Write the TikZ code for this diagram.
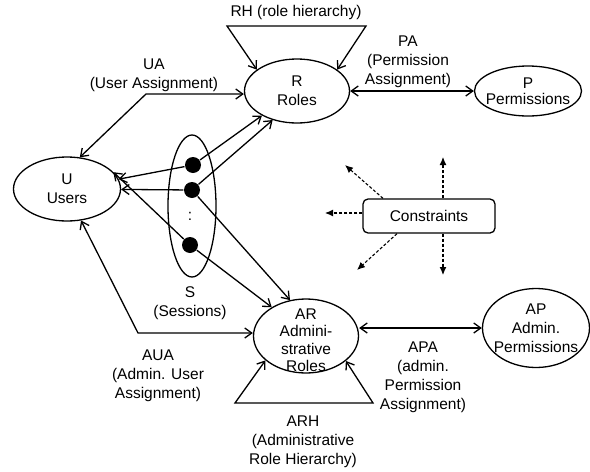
\documentclass[tikz,border=0pt]{standalone}
\usepackage{fontspec}
\setmainfont{Liberation Sans}
\usetikzlibrary{arrows.meta,shapes.geometric,positioning}

\begin{document}
\begin{tikzpicture}[x=1pt,y=-1pt,line width=1.3pt,
  font=\fontsize{15.5}{19}\selectfont,
  >={Straight Barb[length=7pt,width=10pt]},
  ent/.style={ellipse,draw,inner sep=0pt},
  dot/.style={circle,fill,inner sep=0pt,minimum size=16pt},
  lbl/.style={align=center,inner sep=0pt},
  cons/.style={dash pattern=on 3pt off 2pt,line width=1.1pt,-{Latex[length=8pt,width=7pt]}}]
\useasboundingbox (0,0) rectangle (590,472);
\node[ent,minimum width=107pt,minimum height=64pt,label={[lbl]center:U\\Users}] (U) at (67,189) {};
\node[ent,minimum width=105pt,minimum height=64pt,label={[lbl]center:R\\Roles}] (R) at (297,91) {};
\node[ent,minimum width=107pt,minimum height=50pt,label={[lbl,font=\fontsize{15.5}{16}\selectfont]center:P\\Permissions}] (P) at (528,91) {};
\node[ent,minimum width=105pt,minimum height=74pt,label={[lbl,yshift=-4pt,font=\fontsize{15.5}{17.5}\selectfont]center:AR\\Admini-\\strative\\Roles}] (AR) at (306,336) {};
\node[ent,minimum width=107pt,minimum height=79pt,label={[lbl]center:AP\\Admin.\\Permissions}] (AP) at (536,328) {};
\node[ent,minimum width=48pt,minimum height=142pt] (S) at (192,206) {};
\node[dot] (D1) at (193,165) {};
\node[dot] (D2) at (192,190) {};
\node[dot] (D3) at (190,245) {};
\node (dd) at (190,216) {:};
\node[draw,rounded corners=5pt,minimum width=132pt,minimum height=34pt] (C) at (429,216) {Constraints};

\node[lbl] (rhlbl) at (296,12) {RH (role hierarchy)};
\node[lbl] (ualbl) at (154,75) {UA\\(User Assignment)};
\node[lbl] (palbl) at (408,62) {PA\\(Permission\\Assignment)};
\node[lbl] (slbl) at (190,303) {S\\(Sessions)};
\node[lbl] (aualbl) at (158,376) {AUA\\(Admin. User\\Assignment)};
\node[lbl] (apalbl) at (423,377) {APA\\(admin.\\Permission\\Assignment)};
\node[lbl] (arhlbl) at (303,442) {ARH\\(Administrative\\Role Hierarchy)};

\coordinate (uac) at (146,94);
\coordinate (auc) at (138,333);
\coordinate (rhl) at (227,26);
\coordinate (rhr) at (366,26);
\coordinate (arl) at (235,403);
\coordinate (arr) at (373,403);
\draw[<->] (U.68) -- (uac) -- (uac -| R.west);
\draw[<->] (R.152) -- (rhl) -- (rhr) -- (R.28);
\draw[<->] (R.east) -- (P.west);
\draw[->] (D1) -- (U);
\draw[->] (D2) -- (U);
\draw[->] (D3) -- (U.20);
\draw[->] (D1) -- (R.215);
\draw[->] (D2) -- (R.230);
\draw[->] (D2) -- (AR.114);
\draw[->] (D3) -- (AR.140);
\draw[<->] (U.294) -- (auc) -- (auc -| AR.west);
\draw[<->] (AR.211) -- (arl) -- (arr) -- (AR.328);
\draw[<->] (AP.west -| AR.east) -- (AP.west);

\coordinate (cu) at (443,157);
\coordinate (cul) at (345,165);
\coordinate (cl) at (325,213);
\coordinate (cdl) at (357,270);
\coordinate (cd) at (443,275);
\draw[cons] (C.north -| cu) -- (cu);
\draw[cons] ([xshift=-46pt]C.north) -- (cul);
\draw[cons] (C.west |- cl) -- (cl);
\draw[cons] ([xshift=-32pt]C.south) -- (cdl);
\draw[cons] (C.south -| cd) -- (cd);
\end{tikzpicture}
\end{document}
